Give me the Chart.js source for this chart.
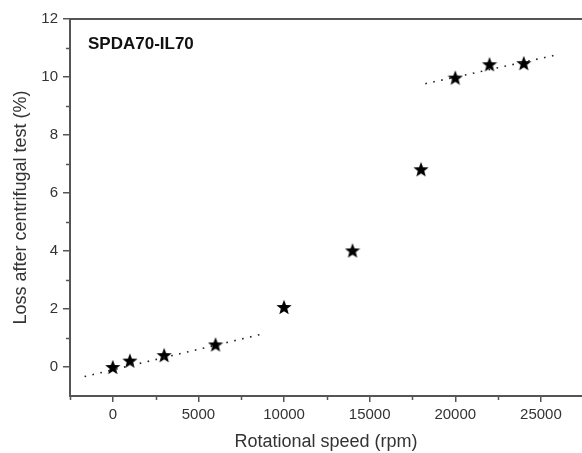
<!DOCTYPE html>
<html>
<head>
<meta charset="utf-8">
<script src="https://cdn.jsdelivr.net/npm/chart.js@4"></script>
<style>
  html, body { margin: 0; padding: 0; background: #fff; overflow: hidden; }
  #wrap { width: 582px; height: 453px; }
</style>
</head>
<body>
<div id="wrap"><canvas id="lossChart"></canvas></div>
<script>
// Data
const speeds = [0, 1000, 3000, 6000, 10000, 14000, 18000, 20000, 22000, 24000];
const loss = [0, 0.22, 0.41, 0.78, 2.07, 4.02, 6.82, 9.98, 10.44, 10.48];
const fitLowX = [-1650, 8750];
const fitLowY = [-0.33, 1.14];
const fitHighX = [18250, 25900];
const fitHighY = [9.77, 10.76];
const xTicks = [0, 5000, 10000, 15000, 20000, 25000];
const xMinor = [-2500, 2500, 7500, 12500, 17500, 22500];
const yTicks = [0, 2, 4, 6, 8, 10, 12];
const yMinor = [1, 3, 5, 7, 9, 11];

const font = "'Liberation Sans', Arial, sans-serif";
const axisColor = '#555';
const textColor = '#333';

// filled five-point star used as marker
function makeStar(size) {
    const c = document.createElement('canvas');
    c.width = size; c.height = size;
    const g = c.getContext('2d');
    const cx = size / 2, cy = size / 2 + 0.8;
    const R = size / 2, r = R * 0.42;
    g.beginPath();
    for (let i = 0; i < 10; i++) {
        const rad = i % 2 === 0 ? R : r;
        const a = -Math.PI / 2 + i * Math.PI / 5;
        const px = cx + rad * Math.cos(a), py = cy + rad * Math.sin(a);
        if (i === 0) g.moveTo(px, py); else g.lineTo(px, py);
    }
    g.closePath();
    g.fillStyle = '#000';
    g.fill();
    return c;
}
const star = makeStar(16);

function toPoints(xs, ys) {
    return xs.map((x, i) => ({ x: x, y: ys[i] }));
}

// top frame line + minor ticks
const framePlugin = {
    id: 'frame',
    afterDraw(chart) {
        const ctx = chart.ctx;
        const a = chart.chartArea;
        const xs = chart.scales.x, ys = chart.scales.y;
        ctx.save();
        ctx.strokeStyle = axisColor;
        ctx.lineWidth = 2;
        ctx.beginPath();
        ctx.moveTo(a.left - 1, a.top);
        ctx.lineTo(a.right, a.top);
        ctx.stroke();
        ctx.lineWidth = 1.5;
        ctx.beginPath();
        yMinor.forEach(v => {
            const p = Math.round(ys.getPixelForValue(v)) + 0.5;
            ctx.moveTo(a.left - 4, p);
            ctx.lineTo(a.left, p);
        });
        xMinor.forEach(v => {
            const p = Math.round(xs.getPixelForValue(v)) + 0.5;
            ctx.moveTo(p, a.bottom);
            ctx.lineTo(p, a.bottom + 4);
        });
        ctx.stroke();
        ctx.restore();
    }
};

const ctx = document.getElementById('lossChart').getContext('2d');
new Chart(ctx, {
    type: 'scatter',
    data: {
        datasets: [{
            data: toPoints(fitLowX, fitLowY),
            showLine: true,
            borderColor: '#222',
            borderWidth: 1.6,
            borderDash: [1.6, 6.5],
            pointRadius: 0
        }, {
            data: toPoints(fitHighX, fitHighY),
            showLine: true,
            borderColor: '#222',
            borderWidth: 1.6,
            borderDash: [1.6, 6.5],
            pointRadius: 0
        }, {
            data: toPoints(speeds, loss),
            pointStyle: star,
            pointRadius: 8
        }]
    },
    options: {
        responsive: true,
        maintainAspectRatio: false,
        animation: false,
        // no automatic room for the markers: the plot runs to the right edge
        layout: { autoPadding: false, padding: { top: 19, right: 0, left: 0, bottom: 0 } },
        plugins: {
            legend: { display: false },
            tooltip: { enabled: false },
            title: { display: false }
        },
        scales: {
            x: {
                type: 'linear',
                min: -2500,
                max: 27400,
                afterBuildTicks: s => { s.ticks = xTicks.map(v => ({ value: v })); },
                afterFit: s => { s.height = 57; },
                grid: { drawOnChartArea: false, drawTicks: true, tickLength: 6, color: axisColor, lineWidth: 1.5 },
                border: { display: true, color: axisColor, width: 2 },
                ticks: { color: textColor, font: { family: font, size: 15 }, padding: 4, maxRotation: 0, callback: v => String(v) },
                title: { display: true, text: 'Rotational speed (rpm)', color: textColor, font: { family: font, size: 18 }, padding: { top: 5, bottom: 0 } }
            },
            y: {
                min: -1,
                max: 12,
                afterBuildTicks: s => { s.ticks = yTicks.map(v => ({ value: v })); },
                afterFit: s => { s.width = 70; },
                grid: { drawOnChartArea: false, drawTicks: true, tickLength: 7, color: axisColor, lineWidth: 1.5 },
                border: { display: true, color: axisColor, width: 2 },
                ticks: { color: textColor, font: { family: font, size: 15 }, padding: 5, callback: v => String(v) },
                title: { display: true, text: 'Loss after centrifugal test (%)', color: textColor, font: { family: font, size: 18 }, padding: { top: 10, bottom: 0 } }
            }
        }
    },
    plugins: [framePlugin, {
        id: 'label',
        afterDraw(chart) {
            const c = chart.ctx;
            c.save();
            c.fillStyle = '#111';
            c.font = "bold 17px " + font;
            c.textBaseline = 'middle';
            c.fillText('SPDA70-IL70', 88, 44);
            c.restore();
        }
    }]
});
</script>
</body>
</html>
